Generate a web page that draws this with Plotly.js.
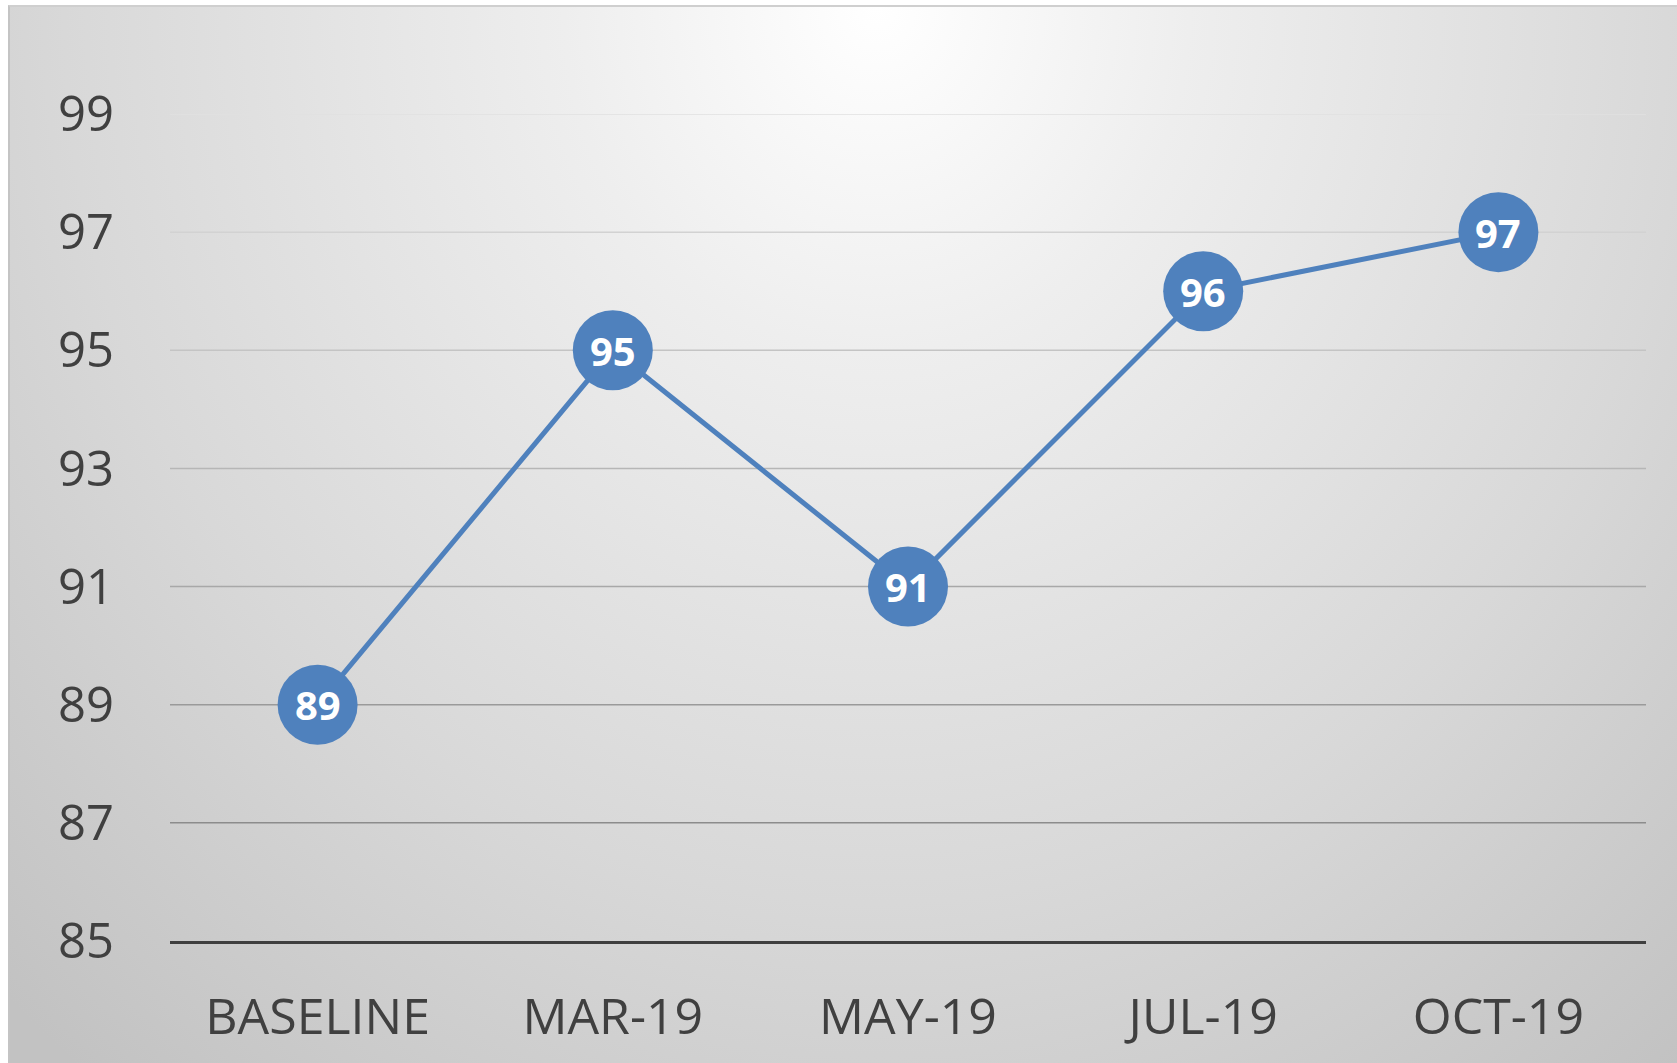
<!DOCTYPE html>
<html>
<head>
<meta charset="utf-8">
<script src="https://cdn.plot.ly/plotly-3.0.1.min.js"></script>
<style>
  html, body { margin: 0; padding: 0; background: #ffffff; }
  #frame {
    position: absolute; left: 8px; top: 5px; width: 1667px; height: 1060px;
    border-top: 2px solid #cfcfcf; border-left: 2px solid #c4c4c4; border-right: 2px solid #bdbdbd;
    background: radial-gradient(ellipse 75% 130% at 52% 0%, #ffffff 0%, #eeeeee 25%, #d8d8d8 65%, #c2c2c2 100%);
  }
  #chart { position: absolute; left: 0; top: 0; width: 1677px; height: 1063px; }
</style>
</head>
<body>
<div id="frame"></div>
<div id="chart"></div>
<script>
const categories = ["BASELINE", "MAR-19", "MAY-19", "JUL-19", "OCT-19"];
const scores = [89, 95, 91, 96, 97];
const yTicks = [85, 87, 89, 91, 93, 95, 97, 99];
const gridShades = ["#3f3f3f", "#8c8c8c", "#9a9a9a", "#a8a8a8", "#b6b6b6", "#c4c4c4", "#d2d2d2", "#e0e0e0"];

const blue = "#4F81BD";
const textColor = "#404040";

const trace = {
  x: categories,
  y: scores,
  type: "scatter",
  mode: "lines+markers",
  line: { color: blue, width: 5 },
  marker: { color: blue, size: 80, line: { width: 0 } },
  cliponaxis: false,
  hoverinfo: "skip"
};

const shapes = yTicks.slice(1).map((v, i) => ({
  type: "line", xref: "paper", x0: 0, x1: 1, yref: "y", y0: v, y1: v,
  line: { color: gridShades[i + 1], width: 1.5 }, layer: "below"
}));

const annotations = categories.map((c, i) => ({
  x: c, y: scores[i], xref: "x", yref: "y",
  text: "<b>" + scores[i] + "</b>",
  showarrow: false, xanchor: "center", yanchor: "middle",
  font: { family: "Open Sans", size: 40, color: "#ffffff" }
}));

const layout = {
  width: 1677, height: 1063,
  margin: { l: 170, r: 31, t: 114, b: 122 },
  paper_bgcolor: "rgba(0,0,0,0)",
  plot_bgcolor: "rgba(0,0,0,0)",
  showlegend: false,
  font: { family: "Open Sans", color: textColor },
  xaxis: {
    type: "category",
    range: [-0.5, categories.length - 0.5],
    showgrid: false,
    zeroline: false,
    showline: true,
    linecolor: "#3f3f3f",
    linewidth: 3,
    ticks: "",
    tickfont: { family: "Open Sans", size: 50, color: textColor },
    ticklabelstandoff: 30,
    fixedrange: true
  },
  yaxis: {
    range: [85, 99],
    tickvals: yTicks,
    ticktext: yTicks.map(String),
    showgrid: false,
    zeroline: false,
    showline: false,
    ticks: "",
    tickfont: { family: "Open Sans", size: 49, color: textColor },
    ticklabelstandoff: 55,
    fixedrange: true
  },
  shapes: shapes,
  annotations: annotations
};

Plotly.newPlot("chart", [trace], layout, { displayModeBar: false, staticPlot: true });
</script>
</body>
</html>
